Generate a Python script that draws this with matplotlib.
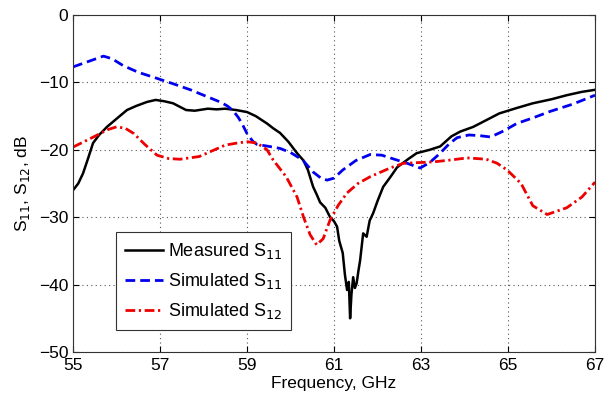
import numpy as np
import matplotlib.pyplot as plt

plt.rcParams['font.family'] = ['Liberation Sans', 'DejaVu Sans']

# measured S11 (black, noisy trace read point by point)
meas_f = [55.0, 55.12, 55.23, 55.35, 55.46, 55.6, 55.78, 56.0, 56.24, 56.45, 56.7, 56.9,
          57.1, 57.3, 57.45, 57.6, 57.8, 58.1, 58.3, 58.5, 58.75, 59.0, 59.2, 59.46,
          59.6, 59.76, 59.95, 60.15, 60.3, 60.4, 60.52, 60.6, 60.68, 60.8, 60.91, 61.0,
          61.07, 61.12, 61.2, 61.25, 61.3, 61.34, 61.37, 61.4, 61.44, 61.48, 61.52, 61.56,
          61.6, 61.67, 61.75, 61.82, 61.9, 62.0, 62.13, 62.3, 62.45, 62.7, 62.9, 63.2,
          63.44, 63.7, 63.9, 64.2, 64.5, 64.8, 65.2, 65.57, 66.0, 66.35, 66.7, 67.0]
meas_s11 = [-26.0, -25.0, -23.5, -21.2, -19.0, -17.8, -16.6, -15.4, -14.1, -13.5, -12.9, -12.6,
            -12.8, -13.1, -13.6, -14.1, -14.2, -13.9, -14.0, -13.9, -14.1, -14.4, -15.0, -16.1,
            -16.8, -17.5, -18.8, -20.5, -21.6, -23.0, -25.5, -26.6, -27.8, -28.6, -30.0, -30.6,
            -31.4, -33.5, -35.3, -38.5, -40.8, -39.6, -45.0, -41.5, -38.9, -40.5, -39.8, -38.0,
            -36.4, -32.4, -32.9, -30.5, -29.4, -27.6, -25.5, -24.0, -22.6, -21.4, -20.5, -20.0,
            -19.5, -18.0, -17.3, -16.6, -15.6, -14.6, -13.8, -13.1, -12.5, -11.9, -11.4, -11.1]

# simulated S11 (blue dashed)
sim11_f = [55.0, 55.35, 55.7, 55.9, 56.15, 56.5, 56.93, 57.3, 57.7, 58.0, 58.38, 58.55,
           58.68, 58.8, 58.9, 59.0, 59.14, 59.23, 59.6, 59.76, 60.0, 60.15, 60.29, 60.52,
           60.7, 60.84, 61.0, 61.2, 61.5, 61.83, 62.1, 62.29, 62.68, 62.98, 63.2, 63.44,
           63.65, 63.83, 64.1, 64.35, 64.6, 64.9, 65.2, 65.6, 65.97, 66.5, 67.0]
sim11_s = [-7.7, -6.9, -6.1, -6.5, -7.5, -8.5, -9.4, -10.2, -11.1, -11.9, -12.9, -13.5,
           -14.2, -15.2, -16.3, -17.6, -18.8, -19.2, -19.6, -19.8, -20.4, -21.0, -21.6, -23.3,
           -24.2, -24.5, -24.2, -23.0, -21.6, -20.7, -20.8, -21.2, -22.0, -22.7, -21.9, -20.5,
           -19.1, -18.2, -17.8, -17.9, -18.1, -17.2, -16.1, -15.2, -14.3, -13.2, -11.9]

# simulated S12 (red dash-dot)
sim12_f = [55.0, 55.5, 55.8, 56.0, 56.2, 56.4, 56.65, 56.93, 57.2, 57.46, 57.9, 58.5,
           58.77, 59.0, 59.23, 59.46, 59.6, 59.9, 60.15, 60.3, 60.45, 60.6, 60.75, 60.91,
           61.1, 61.3, 61.55, 61.83, 62.29, 62.6, 63.28, 63.7, 64.06, 64.5, 64.75, 64.98,
           65.3, 65.57, 65.9, 66.35, 66.7, 67.0]
sim12_s = [-19.6, -18.0, -17.0, -16.6, -16.8, -17.6, -19.2, -20.8, -21.3, -21.4, -21.0, -19.3,
           -19.0, -18.8, -19.0, -20.0, -21.5, -24.0, -27.0, -30.0, -32.6, -34.1, -33.2, -30.4,
           -28.2, -26.4, -25.0, -24.0, -22.7, -22.0, -21.8, -21.5, -21.2, -21.4, -22.0, -23.0,
           -25.0, -28.3, -29.6, -28.6, -27.0, -24.8]

xticks = [55, 57, 59, 61, 63, 65, 67]
yticks = [0, -10, -20, -30, -40, -50]

fig = plt.figure(figsize=(6.05, 3.99), dpi=100)
ax = fig.add_axes([0.1207, 0.1178, 0.8628, 0.8446])

ax.plot(meas_f, meas_s11, color='black', lw=1.8, label='Measured S$_{11}$')
ax.plot(sim11_f, sim11_s, color='#0000ee', lw=2.0, ls=(0, (3.5, 1.8)), label='Simulated S$_{11}$')
ax.plot(sim12_f, sim12_s, color='#ee0000', lw=2.0, ls=(0, (3.5, 1.3, 0.8, 1.3)), label='Simulated S$_{12}$')

ax.set_xlim(55, 67)
ax.set_ylim(-50, 0)
ax.set_xticks(xticks)
ax.set_yticks(yticks)
ax.tick_params(direction='in', top=True, right=True, labelsize=12.5, length=4)
ax.tick_params(axis='x', pad=4.5)
ax.tick_params(axis='y', pad=3.5)
ax.grid(True, ls=(0, (1, 3)), color='#555555', lw=0.8)
for s in ax.spines.values():
    s.set_color('#333333')

ax.set_xlabel('Frequency, GHz', fontsize=12.5, labelpad=2)
ax.set_ylabel('S$_{11}$, S$_{12}$, dB', fontsize=12.5, labelpad=5)

leg = ax.legend(loc='lower left', bbox_to_anchor=(0.082, 0.065), borderaxespad=0, fontsize=13,
                fancybox=False, framealpha=1, edgecolor='#333333',
                handlelength=2.1, handletextpad=0.3, labelspacing=0.55, borderpad=0.5)
leg.get_frame().set_linewidth(0.8)

fig.savefig('out.png', dpi=100)
